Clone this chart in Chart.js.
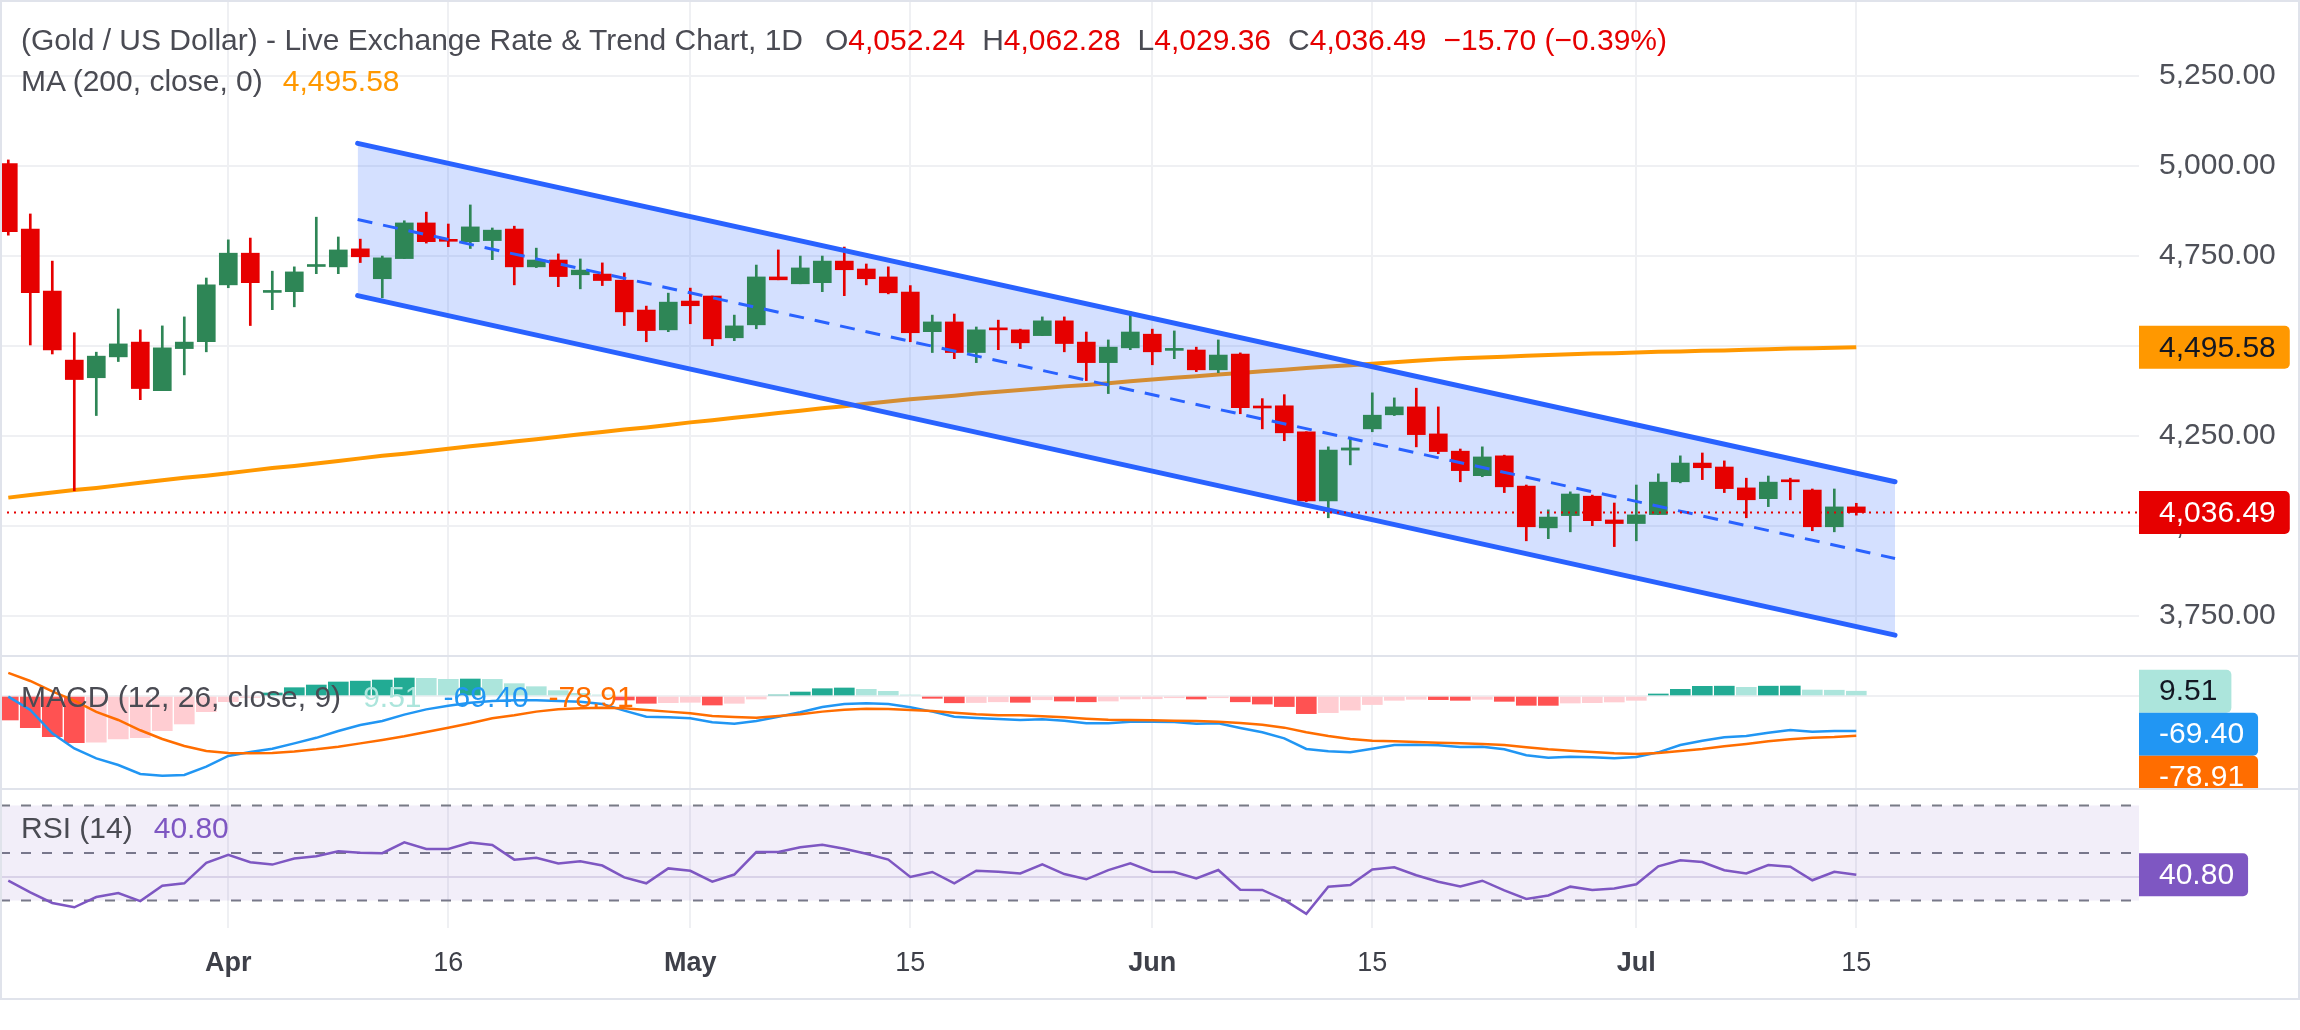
<!DOCTYPE html>
<html>
<head>
<meta charset="utf-8">
<script src="https://cdn.jsdelivr.net/npm/chart.js@4.4.1/dist/chart.umd.min.js"></script>
<style>
  html, body { margin:0; padding:0; background:#ffffff; }
  #wrap { position:relative; width:2300px; height:1030px; overflow:hidden; background:#fff; font-family:'Liberation Sans', Arial, sans-serif; }
  #wrap canvas { position:absolute; left:0; }
  .ln { position:absolute; background:#E0E3EB; }
  .lg { position:absolute; left:21px; white-space:nowrap; font-size:30px; line-height:30px; color:#4A4B53; }
</style>
</head>
<body>
<div id="wrap">
  <canvas id="cMain" width="2300" height="653" style="top:2px"></canvas>
  <canvas id="cMacd" width="2300" height="131" style="top:657px"></canvas>
  <canvas id="cRsi" width="2300" height="208" style="top:790px"></canvas>
  <div class="ln" style="left:0;top:0;width:2300px;height:2px"></div>
  <div class="ln" style="left:0;top:655px;width:2300px;height:2px"></div>
  <div class="ln" style="left:0;top:788px;width:2300px;height:2px"></div>
  <div class="ln" style="left:0;top:998px;width:2300px;height:2px"></div>
  <div class="ln" style="left:0;top:0;width:2px;height:1000px"></div>
  <div class="ln" style="left:2298px;top:0;width:2px;height:1000px"></div>
  <div class="lg" id="lg1" style="top:25px"></div>
  <div class="lg" id="lg2" style="top:66px"></div>
  <div class="lg" id="lg3" style="top:682px"></div>
  <div class="lg" id="lg4" style="top:813px"></div>
</div>
<script>
// ---------------- DATA ----------------
const xTickIdx    = [10, 20, 31, 41, 52, 62, 74, 84];
const xTickLabels = ['Apr', '16', 'May', '15', 'Jun', '15', 'Jul', '15'];
const monthLabels = ['Apr', 'May', 'Jun', 'Jul'];

const opens  = [5006,4824,4652,4460,4411,4469,4510,4375,4492,4511,4669,4757,4648,4650,4720,4719,4769,4686,4742,4841,
                4794,4789,4792,4824,4719,4738,4697,4699,4682,4599,4544,4624,4638,4522,4558,4691,4672,4675,4735,4713,
                4691,4649,4539,4566,4481,4549,4544,4528,4569,4510,4453,4494,4532,4487,4488,4433,4477,4331,4333,4261,
                4069,4210,4269,4308,4330,4255,4207,4139,4194,4110,3994,4028,4082,4016,4006,4031,4122,4174,4163,4105,
                4075,4127,4099,3997,4052.24];
const highs  = [5016,4866,4735,4536,4482,4602,4544,4555,4580,4688,4794,4799,4707,4719,4857,4802,4796,4749,4847,4871,
                4838,4891,4827,4832,4771,4755,4741,4730,4702,4610,4646,4660,4638,4585,4724,4766,4749,4749,4774,4727,
                4719,4667,4585,4588,4552,4571,4546,4580,4580,4538,4516,4594,4546,4541,4496,4516,4480,4353,4364,4261,
                4219,4246,4369,4355,4382,4330,4213,4219,4196,4113,4044,4094,4085,4063,4113,4144,4194,4202,4180,4132,
                4138,4132,4102,4102,4062.28];
const lows   = [4807,4502,4477,4097,4306,4456,4350,4375,4419,4483,4661,4556,4600,4608,4700,4700,4731,4633,4742,4785,
                4775,4770,4739,4669,4717,4664,4658,4667,4556,4511,4539,4561,4500,4514,4547,4683,4672,4650,4639,4669,
                4644,4511,4481,4464,4453,4489,4492,4528,4483,4403,4367,4489,4447,4464,4428,4425,4311,4269,4236,4067,
                4022,4169,4261,4306,4219,4200,4122,4136,4092,3958,3964,3983,4000,3942,3958,4031,4119,4128,4092,4022,
                4053,4072,3986,3983,4029.36];
const closes = [4817,4647,4488,4406,4471,4505,4381,4494,4510,4669,4757,4675,4651,4705,4724,4766,4747,4744,4841,4789,
                4790,4830,4821,4719,4738,4692,4710,4681,4594,4542,4621,4611,4519,4555,4691,4683,4716,4735,4711,4686,
                4647,4536,4566,4481,4544,4544,4508,4569,4506,4453,4496,4538,4483,4491,4433,4474,4328,4327,4258,4069,
                4210,4216,4307,4330,4253,4206,4153,4191,4108,3997,4024,4088,4014,4006,4030,4121,4174,4161,4103,4072,
                4121,4122,3997,4052.19,4036.49];

const ma200  = [4078,4085,4092,4099,4105,4112,4119,4126,4133,4139,4146,4153,4160,4166,4173,4180,4187,4194,4200,4207,
                4214,4221,4227,4234,4240,4247,4254,4260,4267,4273,4280,4287,4293,4300,4306,4313,4319,4326,4332,4339,
                4345,4351,4356,4361,4367,4372,4377,4382,4387,4391,4396,4401,4406,4411,4415,4420,4424,4429,4433,4438,
                4442,4446,4450,4454,4458,4462,4465,4467,4469,4472,4474,4476,4478,4479,4481,4483,4484,4486,4487,4489,
                4490,4492,4493,4494,4495.58];

const channelX     = [15.88, 85.76];
const channelUpper = [5062, 4122];
const channelLower = [4639, 3696];
const channelMid   = [4850.5, 3909];

const macdLine   = [-1.3,-27.8,-74,-104,-123.7,-137,-154.8,-158,-156.7,-140,-119,-111,-104.5,-94,-83,-69.4,-57.5,-49.6,-37,-26.5,
                    -19.2,-13.2,-9.9,-8.6,-8.6,-9.9,-11.2,-15.9,-29,-41,-42.3,-44.3,-52.2,-54.9,-49.6,-41,-32.4,-21.8,-15.9,-14.5,
                    -15.9,-22.5,-31,-41,-43.6,-45.6,-47.6,-46.3,-49,-54.2,-54.2,-51,-51,-51.6,-54.9,-54.2,-63.5,-72,-84,-105,
                    -109.8,-111.8,-104.5,-97.2,-96.6,-97.9,-101.2,-100.5,-105.8,-117.7,-122.4,-120.4,-121.7,-123.7,-121,-111.8,-97.2,-88.6,-82,-79.4,
                    -72.8,-67.5,-70.8,-69.4,-69.40];
const signalLine = [46,29.8,9.3,-9.3,-31.7,-47.6,-68,-85.3,-99.2,-109,-113,-113.8,-113,-110,-105.8,-100.5,-94,-87.3,-80,-71.4,
                    -62.8,-54.2,-44.3,-38.4,-31,-26.5,-24.5,-23.1,-24.5,-27.8,-31,-34.4,-39.7,-41.7,-43,-39.7,-36.4,-31,-27.1,-25.1,
                    -25.8,-27.8,-29.8,-33,-36.4,-38.4,-38.4,-40.3,-42.3,-45,-47,-47.6,-48.3,-49,-49.6,-51,-53.6,-56.9,-62.8,-72,
                    -79.4,-85.3,-88.6,-90,-91.3,-92.6,-93.9,-95.2,-97.2,-101.9,-105.8,-108.5,-111.1,-113.8,-115.1,-113.1,-109.1,-105.2,-99.9,-95.2,
                    -90,-86,-82.7,-81.3,-78.91];
const histogram  = [-47.6,-62.8,-80.7,-92.6,-91.5,-85.3,-82.7,-68.8,-55.5,-31.1,-11.2,-3,6,16.5,21.8,27.8,29.5,31.7,35.7,35.0,
                    33.1,33.7,33.0,24.5,18.5,10.6,5.3,2,-7.9,-14.5,-13.2,-12.5,-17.9,-14.5,-6,2,7.9,14.5,15.9,13.2,
                    9.3,2,-4.6,-13.5,-13.0,-11.5,-12.5,-7.5,-10,-11.5,-10,-6,-5.5,-3.5,-6,-3.5,-11.5,-16,-21,-35,
                    -33,-28,-17,-8.6,-6.6,-7.2,-8.6,-6.6,-10.6,-18.5,-18.6,-13.9,-13.2,-11.9,-8.6,4,13.2,19.2,19.5,17.2,
                    19.5,19.8,11.9,11.5,9.51];

const rsi = [38.3,33.4,28.9,27.1,31.4,33.1,29.7,36.2,37.2,45.8,49.2,46.1,45.1,47.7,48.6,50.7,50.1,49.9,54.5,51.7,
             51.7,54.4,53.4,47.2,48.0,45.6,46.5,44.7,39.7,37.2,43.5,42.5,37.9,40.9,50.4,50.4,52.4,53.5,51.8,49.7,
             47.2,39.9,42.0,37.2,42.5,42.1,41.4,45.2,41.1,38.9,42.8,45.6,42.1,42.0,39.3,42.8,34.5,34.4,30.2,24.3,
             35.8,36.5,43.0,44.0,40.6,37.9,35.9,38.3,34.2,30.6,32.1,35.8,34.4,35.0,36.8,44.4,46.9,46.2,42.7,41.4,
             44.9,44.2,38.5,42.1,40.80];
const rsiBands = [70, 50, 30];
const rsiGrid  = [40];

const priceTicks      = [3750, 4000, 4250, 4500, 4750, 5000, 5250];
const priceTickLabels = ['3,750.00', '4,000.00', '4,250.00', '4,500.00', '4,750.00', '5,000.00', '5,250.00'];

// ---------------- STYLE / LAYOUT ----------------
const FONT = "'Liberation Sans', Arial, sans-serif";
const GRID = '#EFF0F3';
const AXIS_TXT = '#4E5058';
const UP = '#2E8656', DOWN = '#E60000';
const X_MIN = -0.377, X_MAX = 96.85;
const AXIS_W = 161;

const fmt = v => v.toLocaleString('en-US', { minimumFractionDigits: 2, maximumFractionDigits: 2 });
const last = a => a[a.length - 1];
const idx = opens.map((_, i) => i);

function noPad(s) { s.paddingTop = 0; s.paddingBottom = 0; s.paddingLeft = 0; s.paddingRight = 0; }

function xScale(showLabels) {
  return {
    type: 'linear', min: X_MIN, max: X_MAX, offset: false,
    afterBuildTicks: s => { s.ticks = xTickIdx.map(v => ({ value: v })); },
    afterFit: s => { s.height = showLabels ? 70 : 0; noPad(s); },
    grid: { color: GRID, lineWidth: 2, drawTicks: false, offset: false },
    border: { display: false },
    ticks: showLabels ? {
      autoSkip: false, maxRotation: 0, padding: 19, color: '#3E4049',
      callback: (v, i) => xTickLabels[i],
      font: c => ({ family: FONT, size: 27, weight: monthLabels.includes(xTickLabels[c.index]) ? 'bold' : 'normal' })
    } : { display: false }
  };
}

function yScale(min, max, ticks, labels, gridColor) {
  return {
    type: 'linear', position: 'right', min, max, offset: false,
    afterBuildTicks: s => { s.ticks = ticks.map(v => ({ value: v })); },
    afterFit: s => { s.width = AXIS_W; noPad(s); },
    grid: { color: gridColor || GRID, lineWidth: 2, drawTicks: false, offset: false },
    border: { display: false },
    ticks: labels ? { padding: 20, color: AXIS_TXT, font: { family: FONT, size: 30 }, callback: (v, i) => labels[i] }
                  : { display: false }
  };
}

function tagPlugin(tags) {
  return {
    id: 'tags',
    afterDraw(chart) {
      const c = chart.ctx, ys = chart.scales.y, left = chart.chartArea.right;
      c.save();
      c.font = '30px ' + FONT;
      c.textBaseline = 'middle';
      let prevBottom = -Infinity;
      tags.map(t => Object.assign({}, t, { cy: ys.getPixelForValue(t.value) }))
          .sort((a, b) => a.cy - b.cy)
          .forEach(t => {
            const h = 43;
            let top = t.cy - h / 2;
            if (top < prevBottom) top = prevBottom;
            prevBottom = top + h;
            const w = c.measureText(t.text).width + 34;
            c.fillStyle = t.bg;
            c.beginPath();
            c.roundRect(left, top, w, h, [0, 5, 5, 0]);
            c.fill();
            c.fillStyle = t.fg;
            c.fillText(t.text, left + 20, top + h / 2 + 1);
          });
      c.restore();
    }
  };
}

const common = {
  responsive: false, animation: false, devicePixelRatio: 1,
  layout: { padding: 0 },
  plugins: { legend: { display: false }, tooltip: { enabled: false } },
  events: []
};

// ---------------- MAIN PANE ----------------
const candleColor = c => (c.dataIndex !== undefined && closes[c.dataIndex] >= opens[c.dataIndex]) ? UP : DOWN;
const pts = (xs, ys) => xs.map((x, i) => ({ x, y: ys[i] }));
const lastClose = last(closes);

new Chart(document.getElementById('cMain'), {
  type: 'line',
  data: {
    datasets: [
      { label: 'price', data: [{ x: X_MIN, y: lastClose }, { x: X_MAX, y: lastClose }], borderColor: DOWN, borderWidth: 2,
        borderDash: [2, 5], pointRadius: 0, order: 0 },
      { label: 'upper', data: pts(channelX, channelUpper), borderColor: '#2962FF', borderWidth: 5, pointRadius: 0, order: 1, borderCapStyle: 'round' },
      { label: 'lower', data: pts(channelX, channelLower), borderColor: '#2962FF', borderWidth: 5, pointRadius: 0, order: 1, borderCapStyle: 'round' },
      { label: 'mid', data: pts(channelX, channelMid), borderColor: '#2962FF', borderWidth: 3, borderDash: [15, 11], pointRadius: 0, order: 1 },
      { type: 'bar', label: 'body', data: idx.map(i => ({ x: i, y: [opens[i], closes[i]] })), backgroundColor: candleColor,
        barThickness: 18, minBarLength: 2, grouped: false, borderWidth: 0, order: 3 },
      { type: 'bar', label: 'wick', data: idx.map(i => ({ x: i, y: [lows[i], highs[i]] })), backgroundColor: candleColor,
        barThickness: 2, grouped: false, borderWidth: 0, order: 4 },
      { label: 'fillU', data: pts(channelX, channelUpper), borderWidth: 0, pointRadius: 0, fill: '+1',
        backgroundColor: 'rgba(41,98,255,0.2)', order: 8 },
      { label: 'fillL', data: pts(channelX, channelLower), borderWidth: 0, pointRadius: 0, fill: false, order: 8 },
      { label: 'MA200', data: idx.map(i => ({ x: i, y: ma200[i] })), borderColor: '#FF9800', borderWidth: 4, pointRadius: 0, order: 10 }
    ]
  },
  options: Object.assign({}, common, {
    scales: { x: xScale(false), y: yScale(3640.83, 5454.72, priceTicks, priceTickLabels) }
  }),
  plugins: [tagPlugin([
    { value: last(ma200), text: fmt(last(ma200)), bg: '#FF9800', fg: '#131722' },
    { value: lastClose, text: fmt(lastClose), bg: DOWN, fg: '#ffffff' }
  ])]
});

// ---------------- MACD PANE ----------------
const histColor = c => {
  const i = c.dataIndex;
  if (i === undefined) return '#22AB94';
  const h = histogram[i], p = i > 0 ? histogram[i - 1] : h;
  if (h >= 0) return h >= p ? '#22AB94' : '#ACE5DC';
  return h <= p ? '#FF5252' : '#FFCDD2';
};

new Chart(document.getElementById('cMacd'), {
  type: 'line',
  data: {
    datasets: [
      { label: 'signal', data: idx.map(i => ({ x: i, y: signalLine[i] })), borderColor: '#FF6D00', borderWidth: 2.5, pointRadius: 0, order: 0 },
      { label: 'macd', data: idx.map(i => ({ x: i, y: macdLine[i] })), borderColor: '#2196F3', borderWidth: 2.5, pointRadius: 0, order: 1 },
      { type: 'bar', label: 'hist', data: idx.map(i => ({ x: i, y: histogram[i] })), backgroundColor: histColor,
        barThickness: 20, grouped: false, borderWidth: 0, order: 5 }
    ]
  },
  options: Object.assign({}, common, {
    scales: { x: xScale(false), y: yScale(-182.54, 77.38, [0], null) }
  }),
  plugins: [tagPlugin([
    { value: last(histogram), text: fmt(last(histogram)), bg: '#ACE5DC', fg: '#131722' },
    { value: last(macdLine), text: fmt(last(macdLine)), bg: '#2196F3', fg: '#ffffff' },
    { value: last(signalLine), text: fmt(last(signalLine)), bg: '#FF6D00', fg: '#ffffff' }
  ])]
});

// ---------------- RSI PANE ----------------
const band = v => [{ x: X_MIN, y: v }, { x: X_MAX, y: v }];
new Chart(document.getElementById('cRsi'), {
  type: 'line',
  data: {
    datasets: [
      { label: 'rsi', data: idx.map(i => ({ x: i, y: rsi[i] })), borderColor: '#7E57C2', borderWidth: 2.5, pointRadius: 0, order: 0 },
      { label: 'b70', data: band(rsiBands[0]), borderColor: '#787B86', borderWidth: 2, borderDash: [10, 11], pointRadius: 0,
        fill: '+2', backgroundColor: 'rgba(126,87,194,0.1)', order: 2 },
      { label: 'b50', data: band(rsiBands[1]), borderColor: '#787B86', borderWidth: 2, borderDash: [10, 11], pointRadius: 0, order: 2 },
      { label: 'b30', data: band(rsiBands[2]), borderColor: '#787B86', borderWidth: 2, borderDash: [10, 11], pointRadius: 0, order: 2 }
    ]
  },
  options: Object.assign({}, common, {
    scales: { x: xScale(true), y: yScale(18.35, 76.58, rsiGrid, null, '#E4E0EC') }
  }),
  plugins: [tagPlugin([
    { value: last(rsi), text: fmt(last(rsi)), bg: '#7E57C2', fg: '#ffffff' }
  ])]
});

// ---------------- LEGENDS (HTML text) ----------------
const RED = DOWN;
const n = closes.length;
const chg = closes[n - 1] - closes[n - 2];
const pct = chg / closes[n - 2] * 100;
const sgn = chg < 0 ? '\u2212' : '+';
const sp = (t, color, ml) => `<span style="${color ? 'color:' + color + ';' : ''}${ml ? 'margin-left:' + ml + 'px;' : ''}">${t}</span>`;
document.getElementById('lg1').innerHTML =
  sp('(Gold / US Dollar) - Live Exchange Rate &amp; Trend Chart, 1D') +
  sp('O', null, 22) + sp(fmt(opens[n - 1]), RED) +
  sp('H', null, 17) + sp(fmt(highs[n - 1]), RED) +
  sp('L', null, 17) + sp(fmt(lows[n - 1]), RED) +
  sp('C', null, 17) + sp(fmt(closes[n - 1]), RED) +
  sp(`${sgn}${Math.abs(chg).toFixed(2)} (${sgn}${Math.abs(pct).toFixed(2)}%)`, RED, 17);
document.getElementById('lg2').innerHTML = sp('MA (200, close, 0)') + sp(fmt(last(ma200)), '#FF9800', 20);
document.getElementById('lg3').innerHTML = sp('MACD (12, 26, close, 9)') +
  sp(fmt(last(histogram)), '#ACE5DC', 22) + sp(fmt(last(macdLine)), '#2196F3', 22) + sp(fmt(last(signalLine)), '#FF6D00', 20);
document.getElementById('lg4').innerHTML = sp('RSI (14)') + sp(fmt(last(rsi)), '#7E57C2', 21);
</script>
</body>
</html>
